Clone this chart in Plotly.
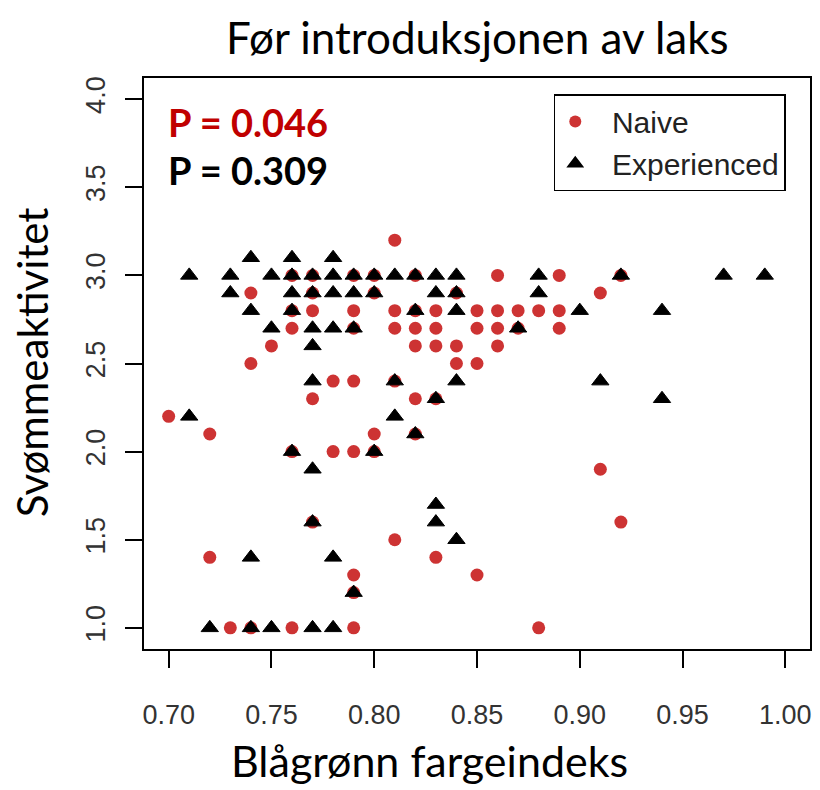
import plotly.graph_objects as go

# ---------------- data ----------------
naive_x = [0.81,
           0.76, 0.77, 0.79, 0.80, 0.82, 0.86, 0.89, 0.92,
           0.74, 0.77, 0.80, 0.84, 0.91,
           0.76, 0.77, 0.79, 0.81, 0.82, 0.83, 0.85, 0.86, 0.87, 0.88, 0.89,
           0.76, 0.79, 0.81, 0.82, 0.83, 0.85, 0.86, 0.87, 0.89,
           0.75, 0.82, 0.83, 0.84, 0.86,
           0.74, 0.84, 0.85,
           0.78, 0.79, 0.81,
           0.77, 0.82, 0.83,
           0.70,
           0.72, 0.80, 0.82,
           0.76, 0.78, 0.79, 0.80,
           0.91,
           0.77, 0.92,
           0.81,
           0.72, 0.83,
           0.79, 0.85,
           0.79,
           0.73, 0.74, 0.76, 0.79, 0.88]
naive_y = [3.2,
           3.0, 3.0, 3.0, 3.0, 3.0, 3.0, 3.0, 3.0,
           2.9, 2.9, 2.9, 2.9, 2.9,
           2.8, 2.8, 2.8, 2.8, 2.8, 2.8, 2.8, 2.8, 2.8, 2.8, 2.8,
           2.7, 2.7, 2.7, 2.7, 2.7, 2.7, 2.7, 2.7, 2.7,
           2.6, 2.6, 2.6, 2.6, 2.6,
           2.5, 2.5, 2.5,
           2.4, 2.4, 2.4,
           2.3, 2.3, 2.3,
           2.2,
           2.1, 2.1, 2.1,
           2.0, 2.0, 2.0, 2.0,
           1.9,
           1.6, 1.6,
           1.5,
           1.4, 1.4,
           1.3, 1.3,
           1.2,
           1.0, 1.0, 1.0, 1.0, 1.0]

exp_x = [0.74, 0.76, 0.78,
         0.71, 0.73, 0.75, 0.76, 0.77, 0.78, 0.79, 0.80, 0.81, 0.82, 0.83, 0.84, 0.88, 0.92, 0.97, 0.99,
         0.73, 0.76, 0.77, 0.78, 0.79, 0.80, 0.83, 0.84, 0.88,
         0.74, 0.76, 0.82, 0.84, 0.90, 0.94,
         0.75, 0.77, 0.78, 0.79, 0.87,
         0.77,
         0.77, 0.81, 0.84, 0.91,
         0.83, 0.94,
         0.71, 0.81,
         0.82,
         0.76, 0.80,
         0.77,
         0.83,
         0.77, 0.83,
         0.84,
         0.74, 0.78,
         0.79,
         0.72, 0.74, 0.75, 0.77, 0.78]
exp_y = [3.1, 3.1, 3.1,
         3.0, 3.0, 3.0, 3.0, 3.0, 3.0, 3.0, 3.0, 3.0, 3.0, 3.0, 3.0, 3.0, 3.0, 3.0, 3.0,
         2.9, 2.9, 2.9, 2.9, 2.9, 2.9, 2.9, 2.9, 2.9,
         2.8, 2.8, 2.8, 2.8, 2.8, 2.8,
         2.7, 2.7, 2.7, 2.7, 2.7,
         2.6,
         2.4, 2.4, 2.4, 2.4,
         2.3, 2.3,
         2.2, 2.2,
         2.1,
         2.0, 2.0,
         1.9,
         1.7,
         1.6, 1.6,
         1.5,
         1.4, 1.4,
         1.2,
         1.0, 1.0, 1.0, 1.0, 1.0]

x_ticks = [0.70, 0.75, 0.80, 0.85, 0.90, 0.95, 1.00]
x_tick_labels = ["0.70", "0.75", "0.80", "0.85", "0.90", "0.95", "1.00"]
y_ticks = [1.0, 1.5, 2.0, 2.5, 3.0, 3.5, 4.0]
y_tick_labels = ["1.0", "1.5", "2.0", "2.5", "3.0", "3.5", "4.0"]

series_names = ["Naive", "Experienced"]
p_labels = ["P = 0.046", "P = 0.309"]
title_text = "Før introduksjonen av laks"
x_title = "Blågrønn fargeindeks"
y_title = "Svømmeaktivitet"

RED = "#CD3333"
TICK_FONT = dict(family="Liberation Sans, Arial, sans-serif", size=27, color="#333333")

# The page body has an 8px margin, so the figure is 8px smaller than the window
# and every page position is offset by 8px.
W, H = 812, 782
ML, MR, MT, MB = 136, 8, 70, 141
PW, PH = W - ML - MR, H - MT - MB


def px(xpage):
    return (xpage - 8 - ML) / PW


def py(ypage):
    return (H - MB - (ypage - 8)) / PH


fig = go.Figure()
fig.add_trace(go.Scatter(
    x=naive_x, y=naive_y, mode="markers", name="\u00a0\u00a0" + series_names[0],
    marker=dict(symbol="circle", size=13, color=RED, line=dict(width=0)),
))
fig.add_trace(go.Scatter(
    x=exp_x, y=exp_y, mode="markers", name="\u00a0\u00a0" + series_names[1],
    marker=dict(symbol="triangle-up", size=15, color="black",
                line=dict(width=1, color="black")),
))

axis_common = dict(
    showgrid=False, zeroline=False, showline=True, mirror=True,
    linecolor="black", linewidth=1.5,
    ticks="outside", ticklen=17, tickwidth=1.5, tickcolor="black",
    tickfont=TICK_FONT,
)
fig.update_xaxes(range=[0.688, 1.012], tickvals=x_ticks, ticktext=x_tick_labels,
                 ticklabelstandoff=24, **axis_common)
fig.update_yaxes(range=[0.88, 4.12], tickvals=y_ticks, ticktext=y_tick_labels,
                 tickangle=-90, ticklabelstandoff=9, **axis_common)

fig.add_annotation(text=title_text, xref="paper", yref="paper", x=0.5, y=py(37),
                   yanchor="middle", showarrow=False,
                   font=dict(family="Lato, sans-serif", size=44, color="black"))
fig.add_annotation(text=x_title, xref="paper", yref="paper", x=px(430),
                   y=py(761), yanchor="middle", xanchor="center",
                   showarrow=False,
                   font=dict(family="Lato, sans-serif", size=43, color="black"))
fig.add_annotation(text=y_title, xref="paper", yref="paper", x=px(32),
                   y=py(362), yanchor="middle", xanchor="center",
                   textangle=-90, showarrow=False,
                   font=dict(family="Lato, sans-serif", size=42, color="black"))
fig.add_annotation(text="<b>" + p_labels[0] + "</b>", xref="paper", yref="paper",
                   x=px(166), y=py(122), xanchor="left",
                   yanchor="middle", showarrow=False,
                   font=dict(family="Lato, sans-serif", size=38, color="#C00000"))
fig.add_annotation(text="<b>" + p_labels[1] + "</b>", xref="paper", yref="paper",
                   x=px(166), y=py(170), xanchor="left",
                   yanchor="middle", showarrow=False,
                   font=dict(family="Lato, sans-serif", size=38, color="black"))

fig.update_layout(
    width=W, height=H,
    margin=dict(l=ML, r=MR, t=MT, b=MB),
    plot_bgcolor="white", paper_bgcolor="white",
    showlegend=True,
    legend=dict(x=px(555), y=py(94), xanchor="left", yanchor="top",
                bordercolor="black", borderwidth=1.5, bgcolor="white",
                font=dict(family="Liberation Sans, Arial, sans-serif", size=30, color="#222222"),
                itemsizing="constant"),
)

fig.write_html("out.html")
